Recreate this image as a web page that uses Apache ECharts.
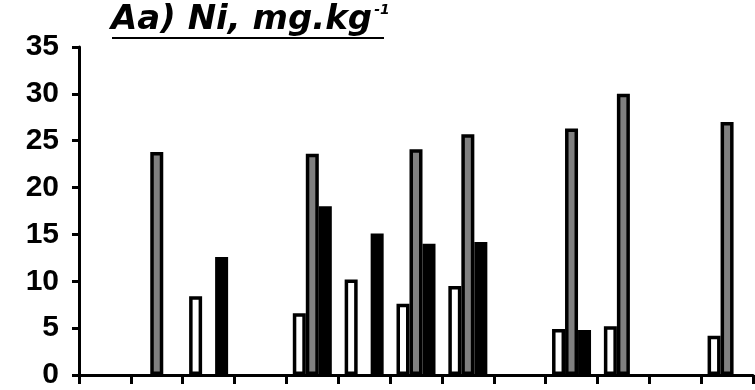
<!DOCTYPE html>
<html>
<head>
<meta charset="utf-8">
<style>
  html, body { margin: 0; padding: 0; background: #fff; }
  #chart { width: 755px; height: 390px; }
</style>
<script src="https://cdn.jsdelivr.net/npm/echarts@6/dist/echarts.min.js"></script>
</head>
<body>
<div id="chart"></div>
<script>
// Thirteen sampling positions along the x axis (no labels drawn)
const categories = ['1', '2', '3', '4', '5', '6', '7', '8', '9', '10', '11', '12', '13'];
// Ni content, mg.kg-1; '-' marks positions with no measurement
const whiteValues = ['-', '-', 8.4, '-', 6.6, 10.2, 7.6, 9.5, '-', 4.9, 5.2, '-', 4.2];
const greyValues  = ['-', 23.8, '-', '-', 23.6, '-', 24.1, 25.7, '-', 26.3, 30.0, '-', 27.0];
const blackValues = ['-', '-', 12.6, '-', 18.0, 15.1, 14.0, 14.2, '-', 4.8, '-', '-', '-'];
const yTicks = { min: 0, max: 35, interval: 5 };

const chart = echarts.init(document.getElementById('chart'), null, { renderer: 'canvas' });

const barBase = {
  type: 'bar',
  barWidth: 13,
  barGap: '0%',
  animation: false
};

chart.setOption({
  backgroundColor: '#ffffff',
  animation: false,
  title: {
    text: '{a|Aa) Ni, mg.kg}{s|-1}',
    left: 111,
    top: 3,
    padding: 0,
    textStyle: {
      rich: {
        a: {
          fontFamily: 'DejaVu Sans',
          fontWeight: 'bold',
          fontStyle: 'italic',
          fontSize: 34,
          color: '#000'
        },
        s: {
          fontFamily: 'DejaVu Sans',
          fontWeight: 'bold',
          fontStyle: 'italic',
          fontSize: 14,
          color: '#000',
          verticalAlign: 'top',
          padding: [0, 0, 0, 2]
        }
      }
    }
  },
  graphic: [
    {
      type: 'line',
      shape: { x1: 112, y1: 38, x2: 384, y2: 38 },
      style: { stroke: '#000', lineWidth: 2 },
      silent: true
    }
  ],
  grid: { left: 79, right: 2, top: 47, bottom: 13, containLabel: false },
  xAxis: {
    type: 'category',
    data: categories,
    boundaryGap: true,
    axisLine: { lineStyle: { color: '#000', width: 3 } },
    axisTick: { show: true, length: 9, lineStyle: { color: '#000', width: 3 } },
    axisLabel: { show: false },
    splitLine: { show: false }
  },
  yAxis: {
    type: 'value',
    min: yTicks.min,
    max: yTicks.max,
    interval: yTicks.interval,
    axisLine: { show: true, lineStyle: { color: '#000', width: 3 } },
    axisTick: { show: true, length: 7, lineStyle: { color: '#000', width: 3 } },
    axisLabel: {
      margin: 20,
      color: '#000',
      fontFamily: 'Liberation Sans',
      fontWeight: 'bold',
      fontSize: 30
    },
    splitLine: { show: false }
  },
  series: [
    Object.assign({}, barBase, {
      name: 'white',
      data: whiteValues,
      itemStyle: { color: '#ffffff', borderColor: '#000', borderWidth: 3.5 }
    }),
    Object.assign({}, barBase, {
      name: 'grey',
      data: greyValues,
      itemStyle: { color: '#808080', borderColor: '#000', borderWidth: 3.5 }
    }),
    Object.assign({}, barBase, {
      name: 'black',
      data: blackValues,
      itemStyle: { color: '#000000', borderColor: '#000', borderWidth: 3.5 }
    })
  ]
});
</script>
</body>
</html>
